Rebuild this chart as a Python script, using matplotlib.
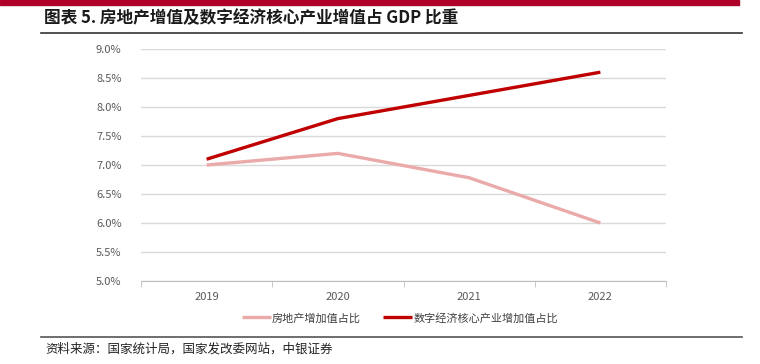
import matplotlib
matplotlib.use("Agg")
import matplotlib.pyplot as plt
from matplotlib.patches import Rectangle
from matplotlib.lines import Line2D
from matplotlib.ticker import FuncFormatter, FixedLocator

plt.rcParams['font.family'] = ['Noto Sans CJK SC', 'DejaVu Sans']

# data
years = ['2019', '2020', '2021', '2022']
realestate = [7.0, 7.2, 6.78, 6.0]
digital = [7.1, 7.8, 8.2, 8.6]
names = ['房地产增加值占比', '数字经济核心产业增加值占比']
title = '图表 5. 房地产增值及数字经济核心产业增值占 GDP 比重'
source = '资料来源：国家统计局，国家发改委网站，中银证券'

W, H = 760, 364
fig = plt.figure(figsize=(W / 100, H / 100), dpi=100)

def fx(x):
    return x / W

def fy(y):
    return 1 - y / H

# top red band
fig.patches.append(Rectangle((0, fy(4.5)), fx(739), 4.5 / H, transform=fig.transFigure,
                             color='#AF0029', zorder=0))
fig.text(fx(44), fy(18), title, fontsize=12, fontweight='bold', color='#1a1a1a', va='center')
fig.add_artist(Line2D([fx(41), fx(742)], [fy(33), fy(33)], color='#333333', lw=1.2))
fig.add_artist(Line2D([fx(41), fx(742)], [fy(337), fy(337)], color='#555555', lw=1.2))
fig.text(fx(45), fy(349), source, fontsize=9, style='italic', color='#222222', va='center')

ax = fig.add_axes([fx(141), fy(281), fx(666) - fx(141), (281 - 49) / H])
x = range(len(years))
l1, = ax.plot(x, realestate, color='#EBAAAA', lw=2.4, solid_capstyle='butt')
l2, = ax.plot(x, digital, color='#C00000', lw=2.4, solid_capstyle='butt')

ax.set_xlim(-0.5, 3.5)
ax.set_ylim(5.0, 9.0)
ax.set_yticks([5.0 + 0.5 * i for i in range(9)])
ax.yaxis.set_major_formatter(FuncFormatter(lambda v, p: f'{v:.1f}%'))
ax.grid(axis='y', color='#D9D9D9', lw=1)
ax.set_axisbelow(True)
ax.set_xticks(list(x))
ax.set_xticklabels(years)
ax.xaxis.set_minor_locator(FixedLocator([-0.5, 0.5, 1.5, 2.5, 3.5]))
ax.tick_params(axis='x', which='major', length=0, pad=8, labelsize=8, labelcolor='#595959')
ax.tick_params(axis='x', which='minor', length=4, color='#BFBFBF')
ax.tick_params(axis='y', length=0, pad=14, labelsize=8, labelcolor='#595959')
for s in ['top', 'right', 'left']:
    ax.spines[s].set_visible(False)
ax.spines['bottom'].set_color('#BFBFBF')

fig.legend([l1, l2], names, loc='center', bbox_to_anchor=(fx(400), fy(318)), ncol=2,
           frameon=False, fontsize=8, handlelength=2.6, handletextpad=0.1, columnspacing=2.0,
           labelcolor='#404040')

fig.savefig('out.png', dpi=100)
